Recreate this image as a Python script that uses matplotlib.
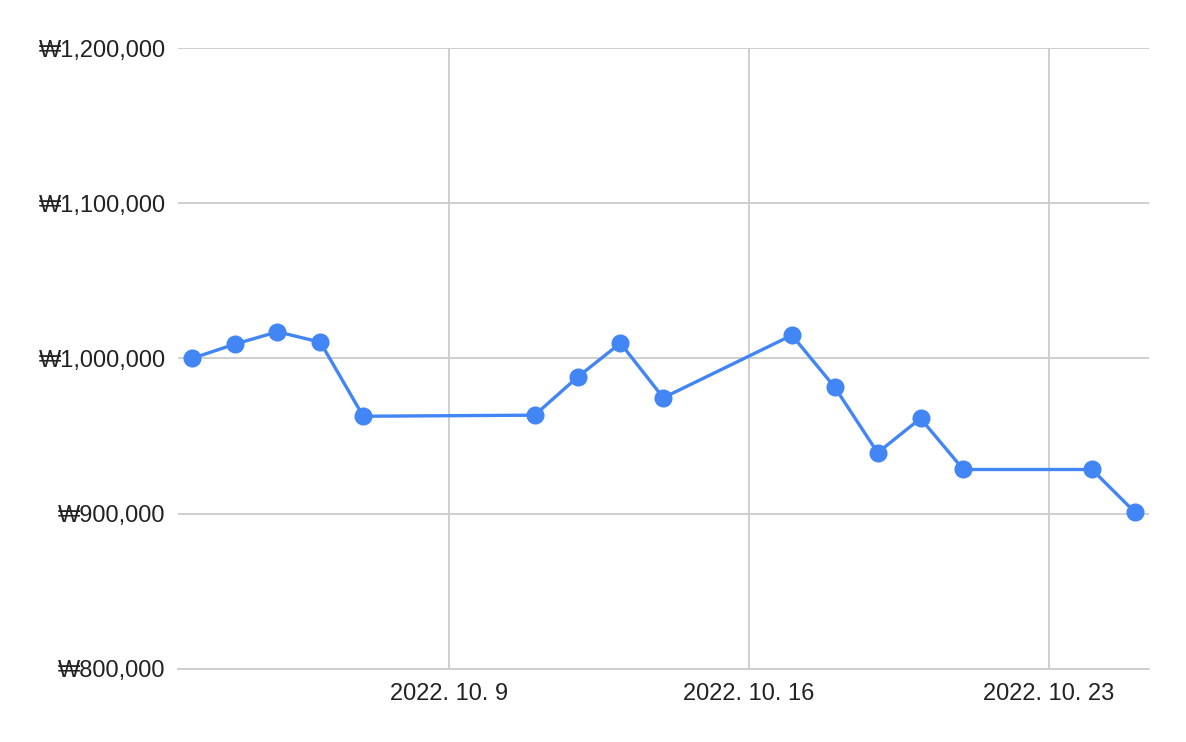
import matplotlib
matplotlib.use("Agg")
import matplotlib.pyplot as plt
import matplotlib.dates as mdates
from matplotlib.ticker import FuncFormatter
import numpy as np

plt.rcParams['font.family'] = ['Liberation Sans', 'DejaVu Sans']

# 날짜와 금액
dates = ["2022-10-03", "2022-10-04", "2022-10-05", "2022-10-06", "2022-10-07",
         "2022-10-11", "2022-10-12", "2022-10-13", "2022-10-14",
         "2022-10-17", "2022-10-18", "2022-10-19", "2022-10-20", "2022-10-21",
         "2022-10-24", "2022-10-25"]
values = [1000000, 1009200, 1017200, 1010500, 962800,
          963500, 988000, 1009900, 974700,
          1015000, 981500, 939300, 961400, 928500,
          928500, 901000]
x_ticks = ["2022-10-09", "2022-10-16", "2022-10-23"]
y_ticks = [800000, 900000, 1000000, 1100000, 1200000]

d = np.array(dates, dtype="datetime64[D]").astype("datetime64[s]").astype(object)
xt = np.array(x_ticks, dtype="datetime64[D]").astype("datetime64[s]").astype(object)

fig = plt.figure(figsize=(11.86, 7.42), dpi=100)
ax = fig.add_axes([0.1501, 0.0984, 0.8187, 0.8369])

ax.plot(d, values, color="#4285F4", lw=2.4, marker="o", ms=12, zorder=3,
        clip_on=False)

x0 = mdates.date2num(d[0]) - 0.32
x1 = mdates.date2num(d[-1]) + 0.33
ax.set_xlim(x0, x1)
ax.set_ylim(800000, 1200000)

ax.set_xticks(xt)
ax.xaxis.set_major_formatter(FuncFormatter(
    lambda v, p: "%d. %d. %d" % (mdates.num2date(v).year, mdates.num2date(v).month, mdates.num2date(v).day)))
ax.set_yticks(y_ticks)
ax.yaxis.set_major_formatter(FuncFormatter(lambda v, p: "₩{:,.0f}".format(v)))

ax.grid(True, color="#cccccc", lw=1.3)
ax.set_axisbelow(True)
for s in ["top", "right", "left"]:
    ax.spines[s].set_visible(False)
ax.spines["bottom"].set_color("#cccccc")
ax.spines["bottom"].set_linewidth(1.3)
ax.tick_params(length=0, labelsize=17, colors="#222222")
ax.tick_params(axis="y", pad=9)
ax.tick_params(axis="x", pad=10)

plt.savefig("out.png", dpi=100)
